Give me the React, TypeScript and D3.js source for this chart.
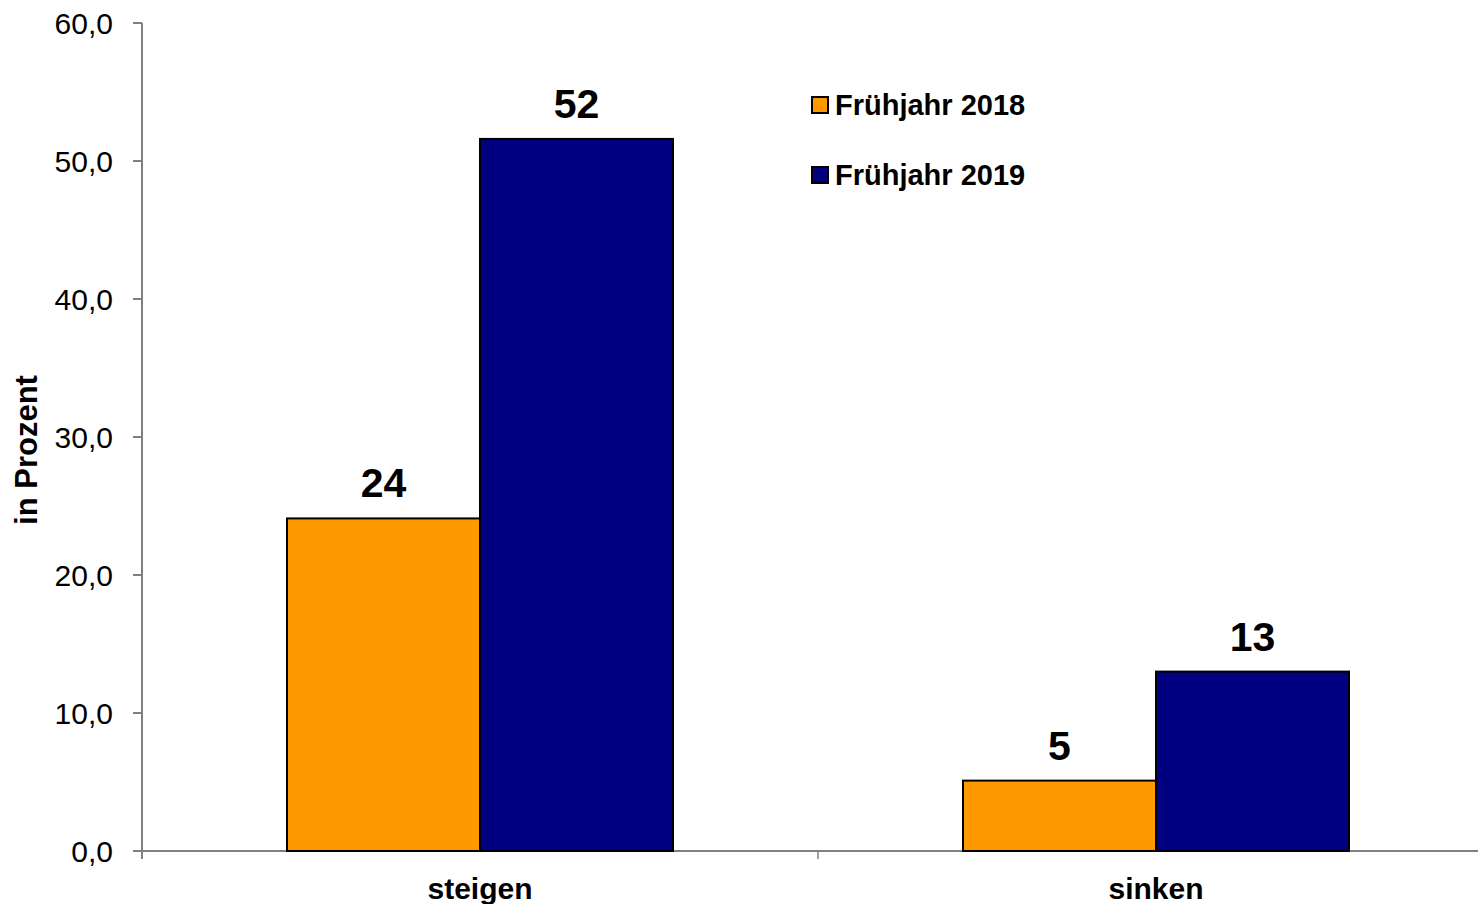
import React from "react";
import * as d3 from "d3";

const categories = ["steigen", "sinken"];
const seriesNames = ["Frühjahr 2018", "Frühjahr 2019"];
const values2018 = [24.1, 5.1];
const values2019 = [51.6, 13.0];
const dataLabels2018 = ["24", "5"];
const dataLabels2019 = ["52", "13"];
const yTicks = [0, 10, 20, 30, 40, 50, 60];
const colors = ["#FF9900", "#000080"];

const W = 1478;
const H = 904;

export default function App() {
  const y = d3.scaleLinear().domain([0, 60]).range([851, 23]);
  const x0 = d3.scaleBand<string>().domain(categories).range([142, 1494]).paddingInner(0.429).paddingOuter(0.2145);
  const x1 = d3.scaleBand<string>().domain(seriesNames).range([0, x0.bandwidth()]);
  const series = [
    { name: seriesNames[0], vals: values2018, labels: dataLabels2018, color: colors[0] },
    { name: seriesNames[1], vals: values2019, labels: dataLabels2019, color: colors[1] },
  ];
  const fmt = (v: number) => v.toFixed(1).replace(".", ",");
  const step = x0.step();
  const catBoundaries = categories.map((_, i) => 142 + i * step);
  const axisColor = "#808080";
  return (
    <svg width={W} height={H} style={{ position: "absolute", left: 0, top: 0, background: "#fff" }}
      fontFamily="'Liberation Sans', Arial, sans-serif">
      {/* y axis */}
      <line x1={142} x2={142} y1={y(60)} y2={y(0) + 8} stroke={axisColor} strokeWidth={2} />
      {yTicks.map((t) => (
        <g key={t}>
          <line x1={133} x2={142} y1={y(t)} y2={y(t)} stroke={axisColor} strokeWidth={2} />
          <text x={113} y={y(t)} dy="0.36em" textAnchor="end" fontSize={30} fill="#000">{fmt(t)}</text>
        </g>
      ))}
      {/* x axis */}
      <line x1={133} x2={W} y1={y(0)} y2={y(0)} stroke={axisColor} strokeWidth={2} />
      {catBoundaries.slice(1).map((b, i) => (
        <line key={i} x1={b} x2={b} y1={y(0)} y2={y(0) + 8} stroke={axisColor} strokeWidth={1.5} />
      ))}
      {categories.map((c) => (
        <text key={c} x={(x0(c) ?? 0) + x0.bandwidth() / 2} y={899} textAnchor="middle" fontSize={30} fontWeight="bold">{c}</text>
      ))}
      {/* bars */}
      {series.map((s) =>
        categories.map((c, i) => {
          const bx = (x0(c) ?? 0) + (x1(s.name) ?? 0);
          const by = y(s.vals[i]);
          return (
            <g key={s.name + c}>
              <rect x={bx} y={by} width={x1.bandwidth()} height={y(0) - by} fill={s.color} stroke="#000" strokeWidth={2} />
              <text x={bx + x1.bandwidth() / 2} y={by - 21} textAnchor="middle" fontSize={41} fontWeight="bold">{s.labels[i]}</text>
            </g>
          );
        })
      )}
      {/* y title */}
      <text transform={`translate(37,450) rotate(-90)`} textAnchor="middle" fontSize={31} fontWeight="bold">in Prozent</text>
      {/* legend */}
      {series.map((s, i) => (
        <g key={s.name} transform={`translate(812,${105 + i * 70})`}>
          <rect x={0} y={-8} width={16} height={16} fill={s.color} stroke="#000" strokeWidth={2} />
          <text x={23} y={0} dy="0.36em" fontSize={29} fontWeight="bold">{s.name}</text>
        </g>
      ))}
    </svg>
  );
}
